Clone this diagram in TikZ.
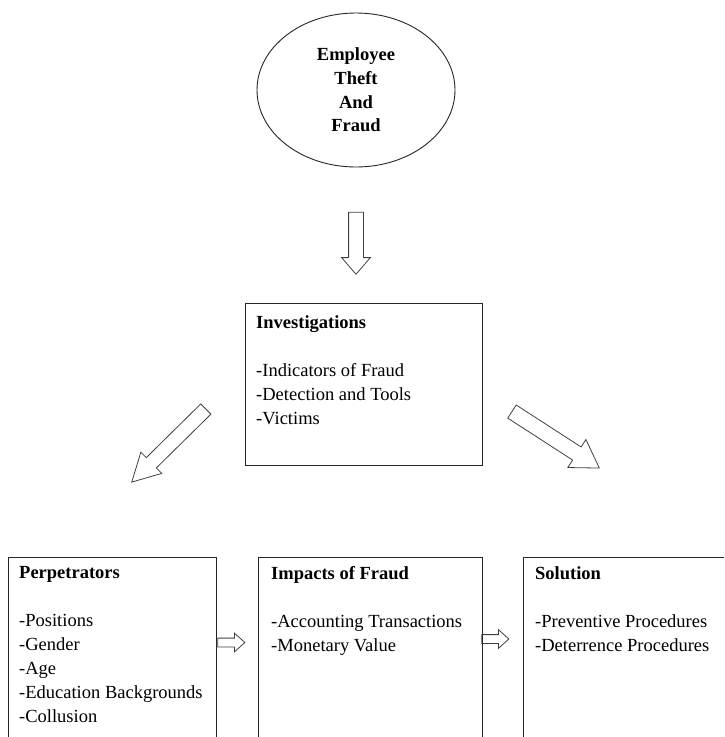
\documentclass[tikz,border=0pt]{standalone}
\usepackage{fontspec}
\setmainfont{Liberation Serif}
\usetikzlibrary{shapes.geometric, shapes.arrows, calc}

\tikzset{
  oval/.style={draw=black!85, line width=0.9pt, ellipse, minimum width=198pt, minimum height=154pt, align=center, font=\fontsize{18.5}{23.7}\selectfont\bfseries},
  box/.style={draw=black!85, line width=0.9pt, rectangle, anchor=north west, inner sep=0pt},
  boxtext/.style={anchor=north west, inner sep=0pt, align=left},
  blockarrow/.style={draw=black!75, line width=0.8pt, single arrow, inner xsep=0pt, single arrow head indent=0pt},
}

\begin{document}
\begin{tikzpicture}[x=1pt, y=-1pt, font=\fontsize{18.5}{24}\selectfont]
\useasboundingbox (0,0) rectangle (724,737);
\clip (0,0) rectangle (724,737);

% top
\node[oval] (theft) at (356,90) {Employee\\Theft\\And\\Fraud};

% middle
\node[box, minimum width=237pt, minimum height=162pt] (inv) at (245,303) {};
\node[boxtext] (invtext) at ($(inv.north west)+(11,12.5)$)
  {\textbf{Investigations}\\[24pt]-Indicators of Fraud\\-Detection and Tools\\-Victims};

% bottom row
\node[box, minimum width=208pt, minimum height=220pt] (perp) at (8,557) {};
\node[box, minimum width=224pt, minimum height=220pt] (imp) at (258,557) {};
\node[box, minimum width=237pt, minimum height=220pt] (sol) at (523,557) {};

\node[boxtext] (perptext) at ($(perp.north west)+(11,9.5)$)
  {\textbf{Perpetrators}\\[24pt]-Positions\\-Gender\\-Age\\-Education Backgrounds\\-Collusion};
\node[boxtext] (imptext) at ($(imp.north west)+(13,9.5)$)
  {\textbf{Impacts of Fraud}\\[24pt]-Accounting Transactions\\-Monetary Value};
\node[boxtext] (soltext) at ($(sol.north west)+(12,9.5)$)
  {\textbf{Solution}\\[24pt]-Preventive Procedures\\-Deterrence Procedures};

% arrows
\node[blockarrow, minimum height=62pt, inner ysep=7pt, single arrow head extend=7pt,
  single arrow tip angle=82, rotate=-90] (down) at ($(theft.south)+(0,71.5)$) {};
\node[blockarrow, minimum height=104pt, inner ysep=6.8pt, single arrow head extend=7.7pt,
  single arrow tip angle=57, rotate=224.6] (toperp) at ($(inv.south west)+(-71.5,-25)$) {};
\node[blockarrow, minimum height=104pt, inner ysep=7.4pt, single arrow head extend=8.9pt,
  single arrow tip angle=64, rotate=-32.9] (tosol) at ($(inv.south east)+(67.5,-29.5)$) {};

\node[blockarrow, minimum height=27pt, inner ysep=4pt, single arrow head extend=5pt,
  single arrow tip angle=84] (perpimp) at ($(perp.north east)+(12,85.5)$) {};
\node[blockarrow, minimum height=27pt, inner ysep=4pt, single arrow head extend=5pt,
  single arrow tip angle=84] (impsol) at ($(imp.north east)+(10,82)$) {};

\end{tikzpicture}
\end{document}
